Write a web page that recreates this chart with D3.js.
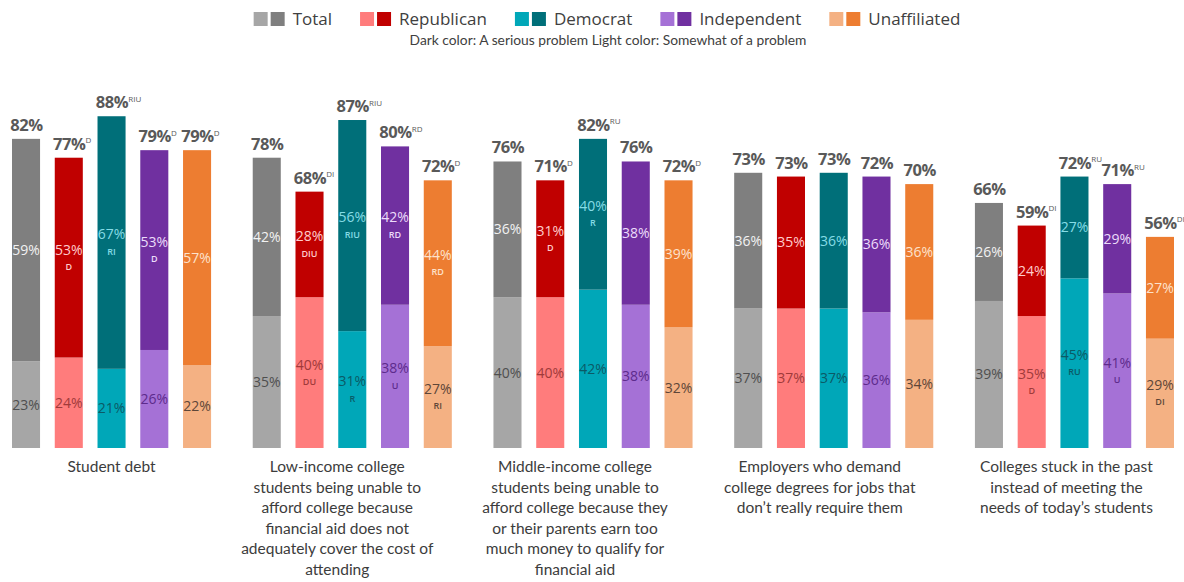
<!DOCTYPE html>
<html>
<head>
<meta charset="utf-8">
<script src="https://cdn.jsdelivr.net/npm/d3@7"></script>
<style>
  html, body { margin: 0; padding: 0; background: #fff; }
  svg { display: block; }
</style>
</head>
<body>
<svg id="chart" width="1184" height="582"></svg>
<script>
// Issues and party groups
const categories = [
  ["Student debt"],
  ["Low-income college", "students being unable to", "afford college because", "financial aid does not", "adequately cover the cost of", "attending"],
  ["Middle-income college", "students being unable to", "afford college because they", "or their parents earn too", "much money to qualify for", "financial aid"],
  ["Employers who demand", "college degrees for jobs that", "don\u2019t really require them"],
  ["Colleges stuck in the past", "instead of meeting the", "needs of today\u2019s students"]
];
const groups = ["Total", "Republican", "Democrat", "Independent", "Unaffiliated"];

// "A serious problem" (dark, top segment)
const serious = [
  [59, 53, 67, 53, 57],
  [42, 28, 56, 42, 44],
  [36, 31, 40, 38, 39],
  [36, 35, 36, 36, 36],
  [26, 24, 27, 29, 27]
];
// "Somewhat of a problem" (light, bottom segment)
const somewhat = [
  [23, 24, 21, 26, 22],
  [35, 40, 31, 38, 27],
  [40, 40, 42, 38, 32],
  [37, 37, 37, 36, 34],
  [39, 35, 45, 41, 29]
];
// Combined totals shown above each bar
const totals = [
  [82, 77, 88, 79, 79],
  [78, 68, 87, 80, 72],
  [76, 71, 82, 76, 72],
  [73, 73, 73, 72, 70],
  [66, 59, 72, 71, 56]
];
// Significance letters
const totalSig = [
  ["", "D", "RIU", "D", "D"],
  ["", "DI", "RIU", "RD", "D"],
  ["", "D", "RU", "", "D"],
  ["", "", "", "", ""],
  ["", "DI", "RU", "RU", "DI"]
];
const seriousSig = [
  ["", "D", "RI", "D", ""],
  ["", "DIU", "RIU", "RD", "RD"],
  ["", "D", "R", "", ""],
  ["", "", "", "", ""],
  ["", "", "", "", ""]
];
const somewhatSig = [
  ["", "", "", "", ""],
  ["", "DU", "R", "U", "RI"],
  ["", "", "", "", ""],
  ["", "", "", "", ""],
  ["", "D", "RU", "U", "DI"]
];

const darkColors  = ["#7f7f7f", "#c00000", "#006f79", "#7030a0", "#ed7d31"];
const lightColors = ["#a6a6a6", "#ff7c7c", "#00a7b8", "#a571d6", "#f4b183"];
const darkText    = ["#f2f2f2", "#ffcccc", "#86dce6", "#ecdcfa", "#fde2cc"];
const lightText   = ["#4f4f4f", "#a03a3a", "#0b5a66", "#5d2b8c", "#5e4638"];

const svg = d3.select("#chart");
const labelFont = "'Open Sans', 'Segoe UI', sans-serif";
const textFont = "Lato, Calibri, sans-serif";

// Scales
const x0 = d3.scaleBand().domain(d3.range(categories.length)).range([12, 1174]).paddingInner(0.173);
const x1 = d3.scaleBand().domain(groups).range([0, x0.bandwidth()]).paddingInner(0.344);
const y = d3.scaleLinear().domain([0, 100]).range([448, 71]);

// Legend: light + dark swatch pair per group
const legend = svg.append("g");
const legendGap = 28;
let lx = 0;
groups.forEach((g, i) => {
  const item = legend.append("g").attr("transform", `translate(${lx},0)`);
  item.append("rect").attr("x", 0).attr("y", 12).attr("width", 14).attr("height", 14).attr("fill", lightColors[i]);
  item.append("rect").attr("x", 17).attr("y", 12).attr("width", 14).attr("height", 14).attr("fill", darkColors[i]);
  const t = item.append("text").attr("x", 39).attr("y", 25)
    .attr("font-family", labelFont).attr("font-size", 17).attr("fill", "#404040").text(g);
  lx += 39 + t.node().getComputedTextLength() + legendGap;
});
const legendW = lx - legendGap;
legend.attr("transform", `translate(${607 - legendW / 2},0)`);

svg.append("text").attr("x", 608).attr("y", 45).attr("text-anchor", "middle")
  .attr("font-family", textFont).attr("font-size", 13.8).attr("fill", "#404040")
  .text("Dark color: A serious problem Light color: Somewhat of a problem");

// Category captions sit slightly left of the group centre
const captionNudge = [0, -15, -18, -14, -8];

// Bars
categories.forEach((cat, ci) => {
  const gx = x0(ci);
  const gg = svg.append("g").attr("transform", `translate(${gx},0)`);

  groups.forEach((g, si) => {
    const bx = x1(g), bw = x1.bandwidth(), cx = bx + bw / 2;
    const low = somewhat[ci][si], high = serious[ci][si];

    // light segment (bottom)
    gg.append("rect").attr("x", bx).attr("width", bw)
      .attr("y", y(low)).attr("height", y(0) - y(low)).attr("fill", lightColors[si]);
    // dark segment (top)
    gg.append("rect").attr("x", bx).attr("width", bw)
      .attr("y", y(low + high)).attr("height", y(low) - y(low + high)).attr("fill", darkColors[si]);

    // segment labels
    const seg = (v0, v1, val, sig, color) => {
      const my = (y(v0) + y(v1)) / 2;
      const off = sig ? -8 : 0;
      gg.append("text").attr("x", cx).attr("y", my + off).attr("dy", "0.35em")
        .attr("text-anchor", "middle").attr("font-family", labelFont).attr("font-size", 14)
        .attr("fill", color).text(val + "%");
      if (sig) {
        gg.append("text").attr("x", cx).attr("y", my + 9).attr("dy", "0.35em")
          .attr("text-anchor", "middle").attr("font-family", labelFont).attr("font-size", 9)
          .attr("font-weight", 600).attr("fill", color).text(sig);
      }
    };
    seg(0, low, low, somewhatSig[ci][si], lightText[si]);
    seg(low, low + high, high, seriousSig[ci][si], darkText[si]);

    // total label with superscript letters
    const ty = y(low + high) - 8;
    const tt = gg.append("text").attr("y", ty).attr("font-family", labelFont).attr("fill", "#595959");
    const main = tt.append("tspan").attr("font-size", 16.5).attr("font-weight", 700)
      .attr("letter-spacing", -0.4).text(totals[ci][si] + "%");
    const mw = main.node().getComputedTextLength();
    tt.attr("x", cx - mw / 2 + 0.5);
    if (totalSig[ci][si]) {
      tt.append("tspan").attr("font-size", 8).attr("dy", -6.5).text(totalSig[ci][si]);
    }
  });

  // category caption
  const lab = svg.append("text").attr("text-anchor", "middle")
    .attr("font-family", textFont).attr("font-size", 15.5).attr("fill", "#3c3c3c");
  cat.forEach((line, li) => {
    lab.append("tspan").attr("x", gx + x0.bandwidth() / 2 + captionNudge[ci]).attr("y", 472 + li * 20.5).text(line);
  });
});
</script>
</body>
</html>
